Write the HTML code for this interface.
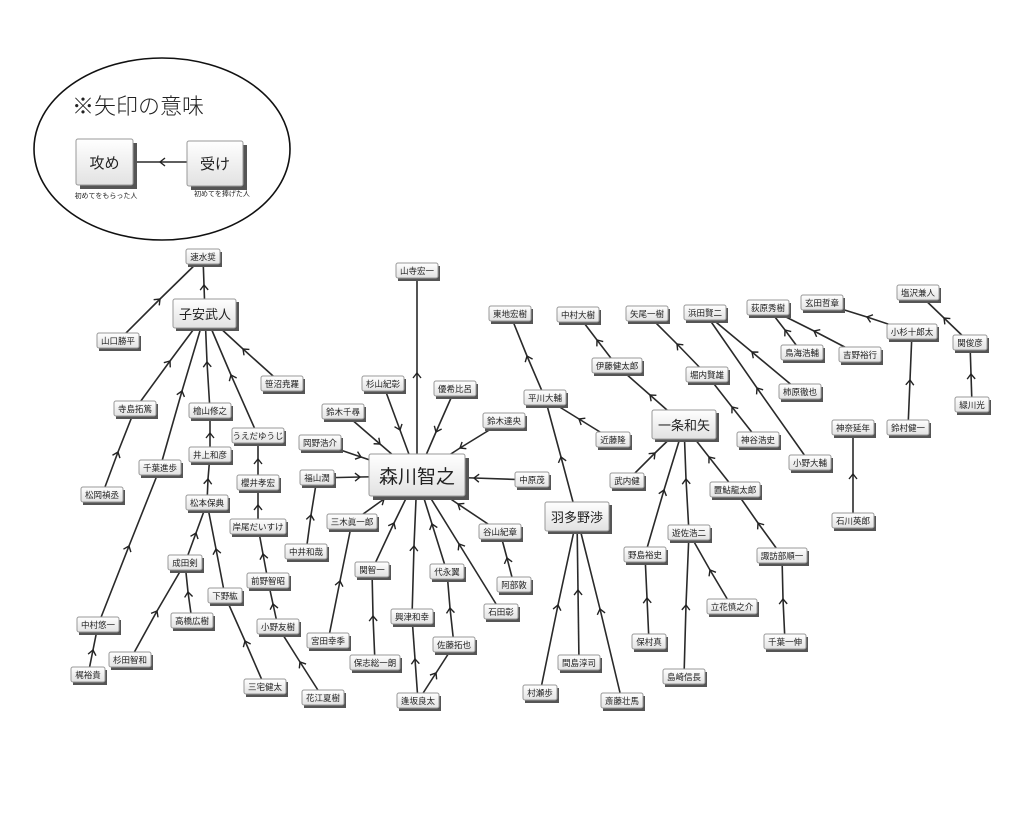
<!DOCTYPE html>
<html><head><meta charset="utf-8"><style>
html,body{margin:0;padding:0;background:#fff}
svg{display:block}
text{font-family:"Liberation Sans","Noto Sans CJK JP",sans-serif;fill:#222}
.e{fill:none;stroke:#2a2a2a;stroke-width:1.6;marker-mid:url(#a)}
</style></head><body>
<svg width="1024" height="813" viewBox="0 0 1024 813" xmlns="http://www.w3.org/2000/svg">
<defs>
<marker id="a" viewBox="-6 -5 8 10" markerWidth="8" markerHeight="10" markerUnits="userSpaceOnUse" orient="auto">
<path d="M-5,-4 L0,0 L-5,4" fill="none" stroke="#222" stroke-width="1.4"/></marker>
<linearGradient id="g" x1="0" y1="0" x2="0" y2="1"><stop offset="0" stop-color="#fff"/><stop offset="1" stop-color="#e2e2e2"/></linearGradient>
<symbol id="x"></symbol>
</defs>
<!-- legend -->
<ellipse cx="162" cy="149" rx="128" ry="91" fill="none" stroke="#111" stroke-width="1.6"/>
<text x="72" y="114" font-size="22" style="font-family:'Liberation Sans','Noto Sans CJK JP',sans-serif;font-weight:300">※矢印の意味</text>
<polyline class="e" points="187,162 160,162 133,162"/>
<rect x="80" y="143" width="57" height="46" fill="#555"/><rect x="76" y="139" width="57" height="46" rx="2" fill="url(#g)" stroke="#999"/>
<text x="104.5" y="168" font-size="15" text-anchor="middle">攻め</text>
<rect x="191" y="145" width="56" height="45" fill="#555"/><rect x="187" y="141" width="56" height="45" rx="2" fill="url(#g)" stroke="#999"/>
<text x="215" y="169" font-size="15" text-anchor="middle">受け</text>
<text x="106" y="198" font-size="7" text-anchor="middle">初めてをもらった人</text>
<text x="222" y="196" font-size="7" text-anchor="middle">初めてを捧げた人</text>

<!-- edges -->
<polyline class="e" points="205,314 204,285 203,257"/>
<polyline class="e" points="118,341 160,299 203,257"/>
<polyline class="e" points="135,409 170,361 205,314"/>
<polyline class="e" points="160,468 182,391 205,314"/>
<polyline class="e" points="210,411 207,362 205,314"/>
<polyline class="e" points="258,436 231,375 205,314"/>
<polyline class="e" points="282,384 243,349 205,314"/>
<polyline class="e" points="102,495 118,452 135,409"/>
<polyline class="e" points="98,625 129,546 160,468"/>
<polyline class="e" points="88,675 93,650 98,625"/>
<polyline class="e" points="210,455 210,433 210,411"/>
<polyline class="e" points="207,503 208,479 210,455"/>
<polyline class="e" points="185,563 196,533 207,503"/>
<polyline class="e" points="225,596 216,549 207,503"/>
<polyline class="e" points="130,660 157,611 185,563"/>
<polyline class="e" points="192,621 188,592 185,563"/>
<polyline class="e" points="265,687 245,641 225,596"/>
<polyline class="e" points="258,483 258,459 258,436"/>
<polyline class="e" points="258,527 258,505 258,483"/>
<polyline class="e" points="268,581 263,554 258,527"/>
<polyline class="e" points="278,627 273,604 268,581"/>
<polyline class="e" points="323,698 300,662 278,627"/>
<polyline class="e" points="417,476 417,373 417,271"/>
<polyline class="e" points="383,384 400,430 417,476"/>
<polyline class="e" points="455,389 436,432 417,476"/>
<polyline class="e" points="343,412 380,444 417,476"/>
<polyline class="e" points="504,421 460,448 417,476"/>
<polyline class="e" points="320,443 361,457 417,476"/>
<polyline class="e" points="317,478 360,477 417,476"/>
<polyline class="e" points="532,480 474,478 417,476"/>
<polyline class="e" points="352,522 384,499 417,476"/>
<polyline class="e" points="500,532 458,504 417,476"/>
<polyline class="e" points="372,570 394,523 417,476"/>
<polyline class="e" points="447,572 432,524 417,476"/>
<polyline class="e" points="501,612 459,544 417,476"/>
<polyline class="e" points="412,617 414,546 417,476"/>
<polyline class="e" points="514,585 507,558 500,532"/>
<polyline class="e" points="306,552 311,515 317,478"/>
<polyline class="e" points="328,641 340,581 352,522"/>
<polyline class="e" points="375,663 373,616 372,570"/>
<polyline class="e" points="418,701 415,659 412,617"/>
<polyline class="e" points="418,701 436,673 454,645"/>
<polyline class="e" points="454,645 450,608 447,572"/>
<polyline class="e" points="545,398 527,356 510,314"/>
<polyline class="e" points="613,440 579,419 545,398"/>
<polyline class="e" points="577,517 561,457 545,398"/>
<polyline class="e" points="540,693 558,605 577,517"/>
<polyline class="e" points="579,663 578,590 577,517"/>
<polyline class="e" points="622,701 600,609 577,517"/>
<polyline class="e" points="617,366 597,340 578,315"/>
<polyline class="e" points="684,425 650,395 617,366"/>
<polyline class="e" points="707,375 677,344 647,314"/>
<polyline class="e" points="758,440 732,407 707,375"/>
<polyline class="e" points="800,392 752,352 705,313"/>
<polyline class="e" points="810,463 757,388 705,313"/>
<polyline class="e" points="627,481 655,453 684,425"/>
<polyline class="e" points="735,490 709,457 684,425"/>
<polyline class="e" points="645,555 664,490 684,425"/>
<polyline class="e" points="689,533 686,479 684,425"/>
<polyline class="e" points="684,677 686,605 689,533"/>
<polyline class="e" points="732,607 710,570 689,533"/>
<polyline class="e" points="649,642 647,598 645,555"/>
<polyline class="e" points="782,556 758,523 735,490"/>
<polyline class="e" points="785,642 783,599 782,556"/>
<polyline class="e" points="802,353 785,330 768,308"/>
<polyline class="e" points="860,355 814,331 768,308"/>
<polyline class="e" points="912,332 867,317 822,303"/>
<polyline class="e" points="908,428 910,380 912,332"/>
<polyline class="e" points="970,343 944,318 918,293"/>
<polyline class="e" points="972,405 971,374 970,343"/>
<polyline class="e" points="853,521 853,474 853,428"/>

<!-- big nodes -->
<g transform="translate(205,314)"><rect x="-29" y="-12" width="63" height="29" fill="#555"/><rect x="-32" y="-15" width="63" height="29" rx="2" fill="url(#g)" stroke="#999"/><text y="5" font-size="13" text-anchor="middle">子安武人</text></g>
<g transform="translate(417,476)"><rect x="-44" y="-18" width="96" height="42" fill="#555"/><rect x="-48" y="-22" width="96" height="42" rx="2" fill="url(#g)" stroke="#999"/><text y="7" font-size="19" text-anchor="middle">森川智之</text></g>
<g transform="translate(684,425)"><rect x="-29" y="-12" width="64" height="29" fill="#555"/><rect x="-32" y="-15" width="64" height="29" rx="2" fill="url(#g)" stroke="#999"/><text y="5" font-size="13" text-anchor="middle">一条和矢</text></g>
<g transform="translate(577,517)"><rect x="-29" y="-12" width="64" height="29" fill="#555"/><rect x="-32" y="-15" width="64" height="29" rx="2" fill="url(#g)" stroke="#999"/><text y="5" font-size="13" text-anchor="middle">羽多野渉</text></g>

<!-- small nodes -->
<g font-size="8.5" text-anchor="middle">
<g transform="translate(203,257)"><rect x="-15" y="-5" width="34" height="15" fill="#555"/><rect x="-17" y="-8" width="34" height="15" rx="2" fill="url(#g)" stroke="#999"/><text y="3">速水奨</text></g>
<g transform="translate(118,341)"><rect x="-19" y="-5" width="42" height="15" fill="#555"/><rect x="-21" y="-8" width="42" height="15" rx="2" fill="url(#g)" stroke="#999"/><text y="3">山口勝平</text></g>
<g transform="translate(282,384)"><rect x="-19" y="-5" width="42" height="15" fill="#555"/><rect x="-21" y="-8" width="42" height="15" rx="2" fill="url(#g)" stroke="#999"/><text y="3">笹沼尭羅</text></g>
<g transform="translate(135,409)"><rect x="-19" y="-5" width="42" height="15" fill="#555"/><rect x="-21" y="-8" width="42" height="15" rx="2" fill="url(#g)" stroke="#999"/><text y="3">寺島拓篤</text></g>
<g transform="translate(210,411)"><rect x="-19" y="-5" width="42" height="15" fill="#555"/><rect x="-21" y="-8" width="42" height="15" rx="2" fill="url(#g)" stroke="#999"/><text y="3">檜山修之</text></g>
<g transform="translate(258,436)"><rect x="-24" y="-5" width="52" height="15" fill="#555"/><rect x="-26" y="-8" width="52" height="15" rx="2" fill="url(#g)" stroke="#999"/><text y="3">うえだゆうじ</text></g>
<g transform="translate(210,455)"><rect x="-19" y="-5" width="42" height="15" fill="#555"/><rect x="-21" y="-8" width="42" height="15" rx="2" fill="url(#g)" stroke="#999"/><text y="3">井上和彦</text></g>
<g transform="translate(160,468)"><rect x="-19" y="-5" width="42" height="15" fill="#555"/><rect x="-21" y="-8" width="42" height="15" rx="2" fill="url(#g)" stroke="#999"/><text y="3">千葉進歩</text></g>
<g transform="translate(258,483)"><rect x="-19" y="-5" width="42" height="15" fill="#555"/><rect x="-21" y="-8" width="42" height="15" rx="2" fill="url(#g)" stroke="#999"/><text y="3">櫻井孝宏</text></g>
<g transform="translate(102,495)"><rect x="-19" y="-5" width="42" height="15" fill="#555"/><rect x="-21" y="-8" width="42" height="15" rx="2" fill="url(#g)" stroke="#999"/><text y="3">松岡禎丞</text></g>
<g transform="translate(207,503)"><rect x="-19" y="-5" width="42" height="15" fill="#555"/><rect x="-21" y="-8" width="42" height="15" rx="2" fill="url(#g)" stroke="#999"/><text y="3">松本保典</text></g>
<g transform="translate(258,527)"><rect x="-26" y="-5" width="56" height="15" fill="#555"/><rect x="-28" y="-8" width="56" height="15" rx="2" fill="url(#g)" stroke="#999"/><text y="3">岸尾だいすけ</text></g>
<g transform="translate(185,563)"><rect x="-15" y="-5" width="34" height="15" fill="#555"/><rect x="-17" y="-8" width="34" height="15" rx="2" fill="url(#g)" stroke="#999"/><text y="3">成田剣</text></g>
<g transform="translate(268,581)"><rect x="-19" y="-5" width="42" height="15" fill="#555"/><rect x="-21" y="-8" width="42" height="15" rx="2" fill="url(#g)" stroke="#999"/><text y="3">前野智昭</text></g>
<g transform="translate(225,596)"><rect x="-15" y="-5" width="34" height="15" fill="#555"/><rect x="-17" y="-8" width="34" height="15" rx="2" fill="url(#g)" stroke="#999"/><text y="3">下野紘</text></g>
<g transform="translate(192,621)"><rect x="-19" y="-5" width="42" height="15" fill="#555"/><rect x="-21" y="-8" width="42" height="15" rx="2" fill="url(#g)" stroke="#999"/><text y="3">高橋広樹</text></g>
<g transform="translate(98,625)"><rect x="-19" y="-5" width="42" height="15" fill="#555"/><rect x="-21" y="-8" width="42" height="15" rx="2" fill="url(#g)" stroke="#999"/><text y="3">中村悠一</text></g>
<g transform="translate(278,627)"><rect x="-19" y="-5" width="42" height="15" fill="#555"/><rect x="-21" y="-8" width="42" height="15" rx="2" fill="url(#g)" stroke="#999"/><text y="3">小野友樹</text></g>
<g transform="translate(130,660)"><rect x="-19" y="-5" width="42" height="15" fill="#555"/><rect x="-21" y="-8" width="42" height="15" rx="2" fill="url(#g)" stroke="#999"/><text y="3">杉田智和</text></g>
<g transform="translate(88,675)"><rect x="-15" y="-5" width="34" height="15" fill="#555"/><rect x="-17" y="-8" width="34" height="15" rx="2" fill="url(#g)" stroke="#999"/><text y="3">梶裕貴</text></g>
<g transform="translate(265,687)"><rect x="-19" y="-5" width="42" height="15" fill="#555"/><rect x="-21" y="-8" width="42" height="15" rx="2" fill="url(#g)" stroke="#999"/><text y="3">三宅健太</text></g>
<g transform="translate(323,698)"><rect x="-19" y="-5" width="42" height="15" fill="#555"/><rect x="-21" y="-8" width="42" height="15" rx="2" fill="url(#g)" stroke="#999"/><text y="3">花江夏樹</text></g>
<g transform="translate(417,271)"><rect x="-19" y="-5" width="42" height="15" fill="#555"/><rect x="-21" y="-8" width="42" height="15" rx="2" fill="url(#g)" stroke="#999"/><text y="3">山寺宏一</text></g>
<g transform="translate(383,384)"><rect x="-19" y="-5" width="42" height="15" fill="#555"/><rect x="-21" y="-8" width="42" height="15" rx="2" fill="url(#g)" stroke="#999"/><text y="3">杉山紀彰</text></g>
<g transform="translate(455,389)"><rect x="-19" y="-5" width="42" height="15" fill="#555"/><rect x="-21" y="-8" width="42" height="15" rx="2" fill="url(#g)" stroke="#999"/><text y="3">優希比呂</text></g>
<g transform="translate(343,412)"><rect x="-19" y="-5" width="42" height="15" fill="#555"/><rect x="-21" y="-8" width="42" height="15" rx="2" fill="url(#g)" stroke="#999"/><text y="3">鈴木千尋</text></g>
<g transform="translate(504,421)"><rect x="-19" y="-5" width="42" height="15" fill="#555"/><rect x="-21" y="-8" width="42" height="15" rx="2" fill="url(#g)" stroke="#999"/><text y="3">鈴木達央</text></g>
<g transform="translate(320,443)"><rect x="-19" y="-5" width="42" height="15" fill="#555"/><rect x="-21" y="-8" width="42" height="15" rx="2" fill="url(#g)" stroke="#999"/><text y="3">岡野浩介</text></g>
<g transform="translate(317,478)"><rect x="-15" y="-5" width="34" height="15" fill="#555"/><rect x="-17" y="-8" width="34" height="15" rx="2" fill="url(#g)" stroke="#999"/><text y="3">福山潤</text></g>
<g transform="translate(532,480)"><rect x="-15" y="-5" width="34" height="15" fill="#555"/><rect x="-17" y="-8" width="34" height="15" rx="2" fill="url(#g)" stroke="#999"/><text y="3">中原茂</text></g>
<g transform="translate(352,522)"><rect x="-23" y="-5" width="50" height="15" fill="#555"/><rect x="-25" y="-8" width="50" height="15" rx="2" fill="url(#g)" stroke="#999"/><text y="3">三木眞一郎</text></g>
<g transform="translate(500,532)"><rect x="-19" y="-5" width="42" height="15" fill="#555"/><rect x="-21" y="-8" width="42" height="15" rx="2" fill="url(#g)" stroke="#999"/><text y="3">谷山紀章</text></g>
<g transform="translate(306,552)"><rect x="-19" y="-5" width="42" height="15" fill="#555"/><rect x="-21" y="-8" width="42" height="15" rx="2" fill="url(#g)" stroke="#999"/><text y="3">中井和哉</text></g>
<g transform="translate(372,570)"><rect x="-15" y="-5" width="34" height="15" fill="#555"/><rect x="-17" y="-8" width="34" height="15" rx="2" fill="url(#g)" stroke="#999"/><text y="3">関智一</text></g>
<g transform="translate(447,572)"><rect x="-15" y="-5" width="34" height="15" fill="#555"/><rect x="-17" y="-8" width="34" height="15" rx="2" fill="url(#g)" stroke="#999"/><text y="3">代永翼</text></g>
<g transform="translate(514,585)"><rect x="-15" y="-5" width="34" height="15" fill="#555"/><rect x="-17" y="-8" width="34" height="15" rx="2" fill="url(#g)" stroke="#999"/><text y="3">阿部敦</text></g>
<g transform="translate(501,612)"><rect x="-15" y="-5" width="34" height="15" fill="#555"/><rect x="-17" y="-8" width="34" height="15" rx="2" fill="url(#g)" stroke="#999"/><text y="3">石田彰</text></g>
<g transform="translate(412,617)"><rect x="-19" y="-5" width="42" height="15" fill="#555"/><rect x="-21" y="-8" width="42" height="15" rx="2" fill="url(#g)" stroke="#999"/><text y="3">興津和幸</text></g>
<g transform="translate(328,641)"><rect x="-19" y="-5" width="42" height="15" fill="#555"/><rect x="-21" y="-8" width="42" height="15" rx="2" fill="url(#g)" stroke="#999"/><text y="3">宮田幸季</text></g>
<g transform="translate(454,645)"><rect x="-19" y="-5" width="42" height="15" fill="#555"/><rect x="-21" y="-8" width="42" height="15" rx="2" fill="url(#g)" stroke="#999"/><text y="3">佐藤拓也</text></g>
<g transform="translate(375,663)"><rect x="-23" y="-5" width="50" height="15" fill="#555"/><rect x="-25" y="-8" width="50" height="15" rx="2" fill="url(#g)" stroke="#999"/><text y="3">保志総一朗</text></g>
<g transform="translate(418,701)"><rect x="-19" y="-5" width="42" height="15" fill="#555"/><rect x="-21" y="-8" width="42" height="15" rx="2" fill="url(#g)" stroke="#999"/><text y="3">逢坂良太</text></g>
<g transform="translate(510,314)"><rect x="-19" y="-5" width="42" height="15" fill="#555"/><rect x="-21" y="-8" width="42" height="15" rx="2" fill="url(#g)" stroke="#999"/><text y="3">東地宏樹</text></g>
<g transform="translate(545,398)"><rect x="-19" y="-5" width="42" height="15" fill="#555"/><rect x="-21" y="-8" width="42" height="15" rx="2" fill="url(#g)" stroke="#999"/><text y="3">平川大輔</text></g>
<g transform="translate(613,440)"><rect x="-15" y="-5" width="34" height="15" fill="#555"/><rect x="-17" y="-8" width="34" height="15" rx="2" fill="url(#g)" stroke="#999"/><text y="3">近藤隆</text></g>
<g transform="translate(540,693)"><rect x="-15" y="-5" width="34" height="15" fill="#555"/><rect x="-17" y="-8" width="34" height="15" rx="2" fill="url(#g)" stroke="#999"/><text y="3">村瀬歩</text></g>
<g transform="translate(579,663)"><rect x="-19" y="-5" width="42" height="15" fill="#555"/><rect x="-21" y="-8" width="42" height="15" rx="2" fill="url(#g)" stroke="#999"/><text y="3">間島淳司</text></g>
<g transform="translate(622,701)"><rect x="-19" y="-5" width="42" height="15" fill="#555"/><rect x="-21" y="-8" width="42" height="15" rx="2" fill="url(#g)" stroke="#999"/><text y="3">斎藤壮馬</text></g>
<g transform="translate(578,315)"><rect x="-19" y="-5" width="42" height="15" fill="#555"/><rect x="-21" y="-8" width="42" height="15" rx="2" fill="url(#g)" stroke="#999"/><text y="3">中村大樹</text></g>
<g transform="translate(617,366)"><rect x="-23" y="-5" width="50" height="15" fill="#555"/><rect x="-25" y="-8" width="50" height="15" rx="2" fill="url(#g)" stroke="#999"/><text y="3">伊藤健太郎</text></g>
<g transform="translate(647,314)"><rect x="-19" y="-5" width="42" height="15" fill="#555"/><rect x="-21" y="-8" width="42" height="15" rx="2" fill="url(#g)" stroke="#999"/><text y="3">矢尾一樹</text></g>
<g transform="translate(705,313)"><rect x="-19" y="-5" width="42" height="15" fill="#555"/><rect x="-21" y="-8" width="42" height="15" rx="2" fill="url(#g)" stroke="#999"/><text y="3">浜田賢二</text></g>
<g transform="translate(707,375)"><rect x="-19" y="-5" width="42" height="15" fill="#555"/><rect x="-21" y="-8" width="42" height="15" rx="2" fill="url(#g)" stroke="#999"/><text y="3">堀内賢雄</text></g>
<g transform="translate(758,440)"><rect x="-19" y="-5" width="42" height="15" fill="#555"/><rect x="-21" y="-8" width="42" height="15" rx="2" fill="url(#g)" stroke="#999"/><text y="3">神谷浩史</text></g>
<g transform="translate(800,392)"><rect x="-19" y="-5" width="42" height="15" fill="#555"/><rect x="-21" y="-8" width="42" height="15" rx="2" fill="url(#g)" stroke="#999"/><text y="3">柿原徹也</text></g>
<g transform="translate(810,463)"><rect x="-19" y="-5" width="42" height="15" fill="#555"/><rect x="-21" y="-8" width="42" height="15" rx="2" fill="url(#g)" stroke="#999"/><text y="3">小野大輔</text></g>
<g transform="translate(627,481)"><rect x="-15" y="-5" width="34" height="15" fill="#555"/><rect x="-17" y="-8" width="34" height="15" rx="2" fill="url(#g)" stroke="#999"/><text y="3">武内健</text></g>
<g transform="translate(735,490)"><rect x="-23" y="-5" width="50" height="15" fill="#555"/><rect x="-25" y="-8" width="50" height="15" rx="2" fill="url(#g)" stroke="#999"/><text y="3">置鮎龍太郎</text></g>
<g transform="translate(689,533)"><rect x="-19" y="-5" width="42" height="15" fill="#555"/><rect x="-21" y="-8" width="42" height="15" rx="2" fill="url(#g)" stroke="#999"/><text y="3">遊佐浩二</text></g>
<g transform="translate(645,555)"><rect x="-19" y="-5" width="42" height="15" fill="#555"/><rect x="-21" y="-8" width="42" height="15" rx="2" fill="url(#g)" stroke="#999"/><text y="3">野島裕史</text></g>
<g transform="translate(782,556)"><rect x="-23" y="-5" width="50" height="15" fill="#555"/><rect x="-25" y="-8" width="50" height="15" rx="2" fill="url(#g)" stroke="#999"/><text y="3">諏訪部順一</text></g>
<g transform="translate(732,607)"><rect x="-23" y="-5" width="50" height="15" fill="#555"/><rect x="-25" y="-8" width="50" height="15" rx="2" fill="url(#g)" stroke="#999"/><text y="3">立花慎之介</text></g>
<g transform="translate(649,642)"><rect x="-15" y="-5" width="34" height="15" fill="#555"/><rect x="-17" y="-8" width="34" height="15" rx="2" fill="url(#g)" stroke="#999"/><text y="3">保村真</text></g>
<g transform="translate(785,642)"><rect x="-19" y="-5" width="42" height="15" fill="#555"/><rect x="-21" y="-8" width="42" height="15" rx="2" fill="url(#g)" stroke="#999"/><text y="3">千葉一伸</text></g>
<g transform="translate(684,677)"><rect x="-19" y="-5" width="42" height="15" fill="#555"/><rect x="-21" y="-8" width="42" height="15" rx="2" fill="url(#g)" stroke="#999"/><text y="3">島崎信長</text></g>
<g transform="translate(768,308)"><rect x="-19" y="-5" width="42" height="15" fill="#555"/><rect x="-21" y="-8" width="42" height="15" rx="2" fill="url(#g)" stroke="#999"/><text y="3">荻原秀樹</text></g>
<g transform="translate(802,353)"><rect x="-19" y="-5" width="42" height="15" fill="#555"/><rect x="-21" y="-8" width="42" height="15" rx="2" fill="url(#g)" stroke="#999"/><text y="3">鳥海浩輔</text></g>
<g transform="translate(860,355)"><rect x="-19" y="-5" width="42" height="15" fill="#555"/><rect x="-21" y="-8" width="42" height="15" rx="2" fill="url(#g)" stroke="#999"/><text y="3">吉野裕行</text></g>
<g transform="translate(822,303)"><rect x="-19" y="-5" width="42" height="15" fill="#555"/><rect x="-21" y="-8" width="42" height="15" rx="2" fill="url(#g)" stroke="#999"/><text y="3">玄田哲章</text></g>
<g transform="translate(912,332)"><rect x="-23" y="-5" width="50" height="15" fill="#555"/><rect x="-25" y="-8" width="50" height="15" rx="2" fill="url(#g)" stroke="#999"/><text y="3">小杉十郎太</text></g>
<g transform="translate(908,428)"><rect x="-19" y="-5" width="42" height="15" fill="#555"/><rect x="-21" y="-8" width="42" height="15" rx="2" fill="url(#g)" stroke="#999"/><text y="3">鈴村健一</text></g>
<g transform="translate(918,293)"><rect x="-19" y="-5" width="42" height="15" fill="#555"/><rect x="-21" y="-8" width="42" height="15" rx="2" fill="url(#g)" stroke="#999"/><text y="3">塩沢兼人</text></g>
<g transform="translate(970,343)"><rect x="-15" y="-5" width="34" height="15" fill="#555"/><rect x="-17" y="-8" width="34" height="15" rx="2" fill="url(#g)" stroke="#999"/><text y="3">関俊彦</text></g>
<g transform="translate(972,405)"><rect x="-15" y="-5" width="34" height="15" fill="#555"/><rect x="-17" y="-8" width="34" height="15" rx="2" fill="url(#g)" stroke="#999"/><text y="3">緑川光</text></g>
<g transform="translate(853,428)"><rect x="-19" y="-5" width="42" height="15" fill="#555"/><rect x="-21" y="-8" width="42" height="15" rx="2" fill="url(#g)" stroke="#999"/><text y="3">神奈延年</text></g>
<g transform="translate(853,521)"><rect x="-19" y="-5" width="42" height="15" fill="#555"/><rect x="-21" y="-8" width="42" height="15" rx="2" fill="url(#g)" stroke="#999"/><text y="3">石川英郎</text></g>
</g>
</svg>
</body></html>
